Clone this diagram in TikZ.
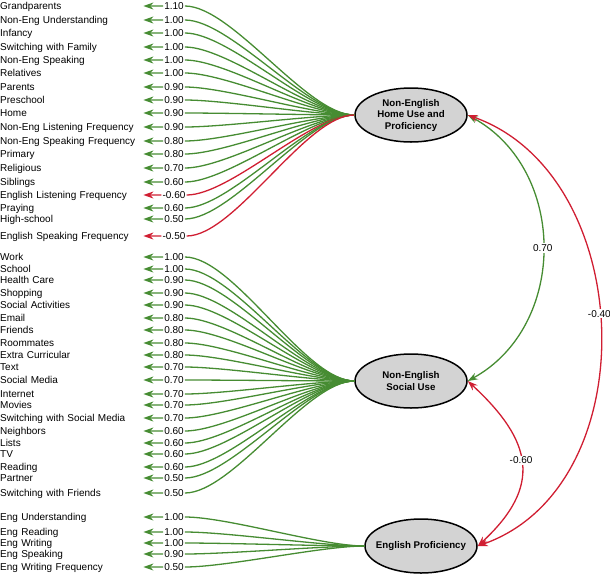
\documentclass[tikz,border=0pt]{standalone}
\usepackage{fontspec}
\setmainfont{Liberation Sans}
\usetikzlibrary{arrows.meta,shapes.geometric}

\definecolor{loadgreen}{RGB}{70,140,50}
\definecolor{loadred}{RGB}{208,30,50}
\definecolor{factorgray}{RGB}{211,211,211}

\begin{document}
\begin{tikzpicture}[
    x=1pt, y=-1pt,
    factor/.style={
        ellipse,
        draw=black,
        line width=1.5pt,
        fill=factorgray,
        minimum width=112pt,
        minimum height=54pt,
        inner sep=0pt,
        align=center,
        font=\fontsize{9.7}{11.5}\selectfont\bfseries
    },
    item/.style={
        anchor=west,
        inner sep=0pt,
        text width=143pt,
        text height=7.2pt,
        text depth=0pt,
        align=left,
        font=\fontsize{10}{12}\selectfont
    },
    weight/.style={
        inner sep=1pt,
        text height=7.2pt,
        text depth=0pt,
        font=\fontsize{10}{12}\selectfont
    },
    load/.style={
        line width=1.3pt,
        -{Stealth[length=10pt,width=7pt]}
    },
    corr/.style={
        line width=1.3pt,
        {Stealth[length=10pt,width=7pt]}-{Stealth[length=10pt,width=7pt]}
    }
]
    \useasboundingbox (0,0) rectangle (610,574);

    % latent factors
    \node[factor] (home) at (411,115) {Non-English\\Home Use and\\Proficiency};
    \node[factor] (social) at (411,381) {Non-English\\Social Use};
    \node[factor, inner xsep=-6pt] (eng) at (421,546) {English Proficiency};

    % home use indicators
    \foreach \txt/\y/\w/\c [count=\i] in {
        Grandparents/6/1.10/loadgreen,
        Non-Eng Understanding/20/1.00/loadgreen,
        Infancy/33/1.00/loadgreen,
        Switching with Family/47/1.00/loadgreen,
        Non-Eng Speaking/60/1.00/loadgreen,
        Relatives/73/1.00/loadgreen,
        Parents/87/0.90/loadgreen,
        Preschool/100/0.90/loadgreen,
        Home/113/0.90/loadgreen,
        Non-Eng Listening Frequency/127/0.90/loadgreen,
        Non-Eng Speaking Frequency/141/0.80/loadgreen,
        Primary/154/0.80/loadgreen,
        Religious/168/0.70/loadgreen,
        Siblings/182/0.60/loadgreen,
        English Listening Frequency/195/-0.60/loadred,
        Praying/208/0.60/loadgreen,
        High-school/219/0.50/loadgreen,
        English Speaking Frequency/236/-0.50/loadred%
    } {
        \node[item] (h\i) at (0,\y) {\txt};
        \node[weight] (hw\i) at (174,\y) {\w};
        \draw[load, draw=\c] (home.west) to[out=180, in=0, looseness=0.6] (hw\i.east)
            (hw\i.west) -- (h\i.east);
    }

    % social use indicators
    \foreach \txt/\y/\w [count=\i] in {
        Work/257/1.00,
        School/269/1.00,
        Health Care/280/0.90,
        Shopping/293/0.90,
        Social Activities/305/0.90,
        Email/318/0.80,
        Friends/330/0.80,
        Roommates/343/0.80,
        Extra Curricular/355/0.80,
        Text/367/0.70,
        Social Media/380/0.70,
        Internet/394/0.70,
        Movies/405/0.70,
        Switching with Social Media/418/0.70,
        Neighbors/431/0.60,
        Lists/443/0.60,
        TV/454/0.60,
        Reading/467/0.60,
        Partner/478/0.50,
        Switching with Friends/493/0.50%
    } {
        \node[item] (s\i) at (0,\y) {\txt};
        \node[weight] (sw\i) at (174,\y) {\w};
        \draw[load, draw=loadgreen] (social.west) to[out=180, in=0, looseness=0.6] (sw\i.east)
            (sw\i.west) -- (s\i.east);
    }

    % english proficiency indicators
    \foreach \txt/\y/\w [count=\i] in {
        Eng Understanding/517/1.00,
        Eng Reading/532/1.00,
        Eng Writing/543/1.00,
        Eng Speaking/554/0.90,
        Eng Writing Frequency/567/0.50%
    } {
        \node[item] (e\i) at (0,\y) {\txt};
        \node[weight] (ew\i) at (174,\y) {\w};
        \draw[load, draw=loadgreen] (eng.west) to[out=180, in=0, looseness=0.6] (ew\i.east)
            (ew\i.west) -- (e\i.east);
    }

    % factor correlations
    \draw[corr, draw=loadgreen] (home.east) .. controls +(100,55) and +(100,-55) .. (social.east)
        node[weight, fill=white, pos=0.5] (r1) {0.70};
    \draw[corr, draw=loadred] (home.east) .. controls +(170,60) and +(170,-60) .. (eng.east)
        node[weight, fill=white, pos=0.47] (r2) {-0.40};
    \draw[corr, draw=loadred] (social.east) .. controls +(65,60) and +(65,-60) .. (eng.east)
        node[weight, fill=white, pos=0.48] (r3) {-0.60};

\end{tikzpicture}
\end{document}
